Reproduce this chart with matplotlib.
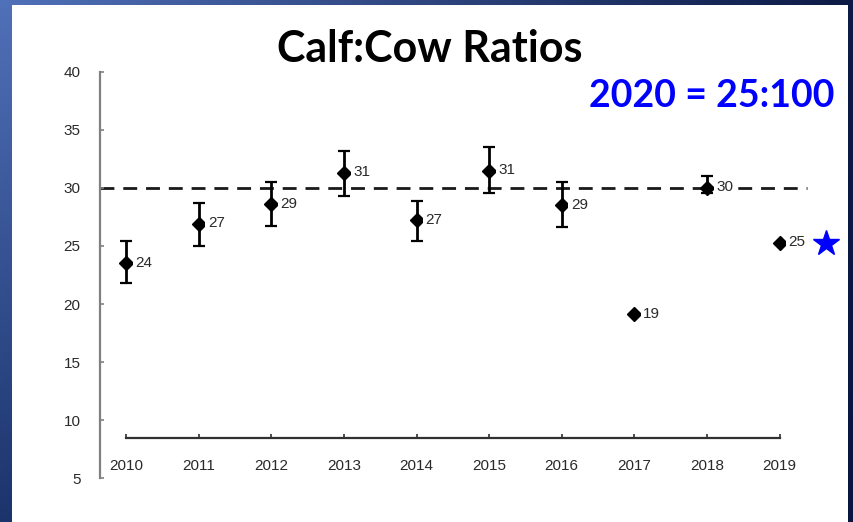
import matplotlib.pyplot as plt
import matplotlib.patches as patches
import numpy as np

# calf:cow ratio survey values
years = [2010, 2011, 2012, 2013, 2014, 2015, 2016, 2017, 2018, 2019]
ratio = [23.5, 26.9, 28.6, 31.3, 27.2, 31.5, 28.5, 19.1, 30.0, 25.3]
err_low = [21.8, 25.0, 26.7, 29.3, 25.4, 29.6, 26.6, None, 29.6, None]
err_high = [25.4, 28.7, 30.5, 33.2, 28.9, 33.5, 30.5, None, 31.0, None]
labels = ['24', '27', '29', '31', '27', '31', '29', '19', '30', '25']
target = 30
latest_year = 2019.64
latest_value = 25.3

fig = plt.figure(figsize=(8.54, 5.22), dpi=100)

# blue slide background with a white panel on top
bg = fig.add_axes([0, 0, 1, 1])
c_tl = np.array([0x50, 0x70, 0xb8]) / 255
c_tr = np.array([0x0c, 0x1a, 0x45]) / 255
c_bl = np.array([0x1c, 0x34, 0x6c]) / 255
c_br = np.array([0x0a, 0x16, 0x40]) / 255
u = np.linspace(0, 1, 200)[None, :, None]
v = np.linspace(0, 1, 120)[:, None, None]
grad = (1 - v) * ((1 - u) * c_tl + u * c_tr) + v * ((1 - u) * c_bl + u * c_br)
bg.imshow(grad, aspect='auto', extent=[0, 1, 0, 1])
bg.add_patch(patches.Rectangle((12 / 854, 0), 836 / 854, 517 / 522,
                               facecolor='white', edgecolor='none'))
bg.set_xlim(0, 1)
bg.set_ylim(0, 1)
bg.axis('off')

ax = fig.add_axes([100 / 854, 44 / 522, 726 / 854, 406 / 522])
ax.patch.set_alpha(0)
ax.set_xlim(2009.64, 2019.64)
ax.set_ylim(5, 40)

# dashed reference line
ax.plot([2009.64, 2019.38], [target, target], color='#1a1a1a', lw=2,
        dashes=(5, 3.2), zorder=1)

# error bars where available
ex = [y for y, lo in zip(years, err_low) if lo is not None]
ey = [r for r, lo in zip(ratio, err_low) if lo is not None]
elo = [r - lo for r, lo in zip(ratio, err_low) if lo is not None]
ehi = [hi - r for r, hi in zip(ratio, err_high) if hi is not None]
ax.errorbar(ex, ey, yerr=[elo, ehi], fmt='none', ecolor='black',
            elinewidth=2, capsize=4, capthick=1.6, zorder=2)

ax.plot(years, ratio, 'D', color='black', ms=7, zorder=3)
for x, y, t in zip(years, ratio, labels):
    ax.annotate(t, (x, y), xytext=(6.5, 0.5), textcoords='offset points',
                ha='left', va='center', fontsize=11, color='#2a2a2a',
                family='Liberation Sans', zorder=4,
                bbox=dict(boxstyle='square,pad=0.15', fc='white', ec='none'))

ax.plot([latest_year], [latest_value], '*', color='#0000ff', ms=19,
        clip_on=False, zorder=4)

ax.spines['top'].set_visible(False)
ax.spines['right'].set_visible(False)
ax.spines['left'].set_color('#808080')
ax.spines['left'].set_linewidth(1.6)
ax.spines['bottom'].set_position(('data', 8.45))
ax.spines['bottom'].set_bounds(2010, 2019)
ax.spines['bottom'].set_color('#303030')
ax.spines['bottom'].set_linewidth(1.6)

ax.set_yticks([5, 10, 15, 20, 25, 30, 35, 40])
ax.set_xticks(years)
ax.tick_params(axis='y', direction='in', length=3, width=1.2,
               color='#808080', pad=14, labelsize=11, labelcolor='#2a2a2a')
ax.tick_params(axis='x', direction='in', length=3, width=1.2,
               color='#303030', pad=15, labelsize=11, labelcolor='#2a2a2a')
for lab in ax.get_xticklabels() + ax.get_yticklabels():
    lab.set_family('Liberation Sans')

fig.text(430 / 854, 1 - 49 / 522, 'Calf:Cow Ratios', ha='center', va='center',
         fontsize=31, fontweight='bold', family='Lato', color='black')
fig.text(835 / 854, 1 - 96 / 522, '2020 = 25:100', ha='right', va='center',
         fontsize=27, fontweight='bold', family='Lato', color='#0000ff')

fig.savefig('out.png', dpi=100)
